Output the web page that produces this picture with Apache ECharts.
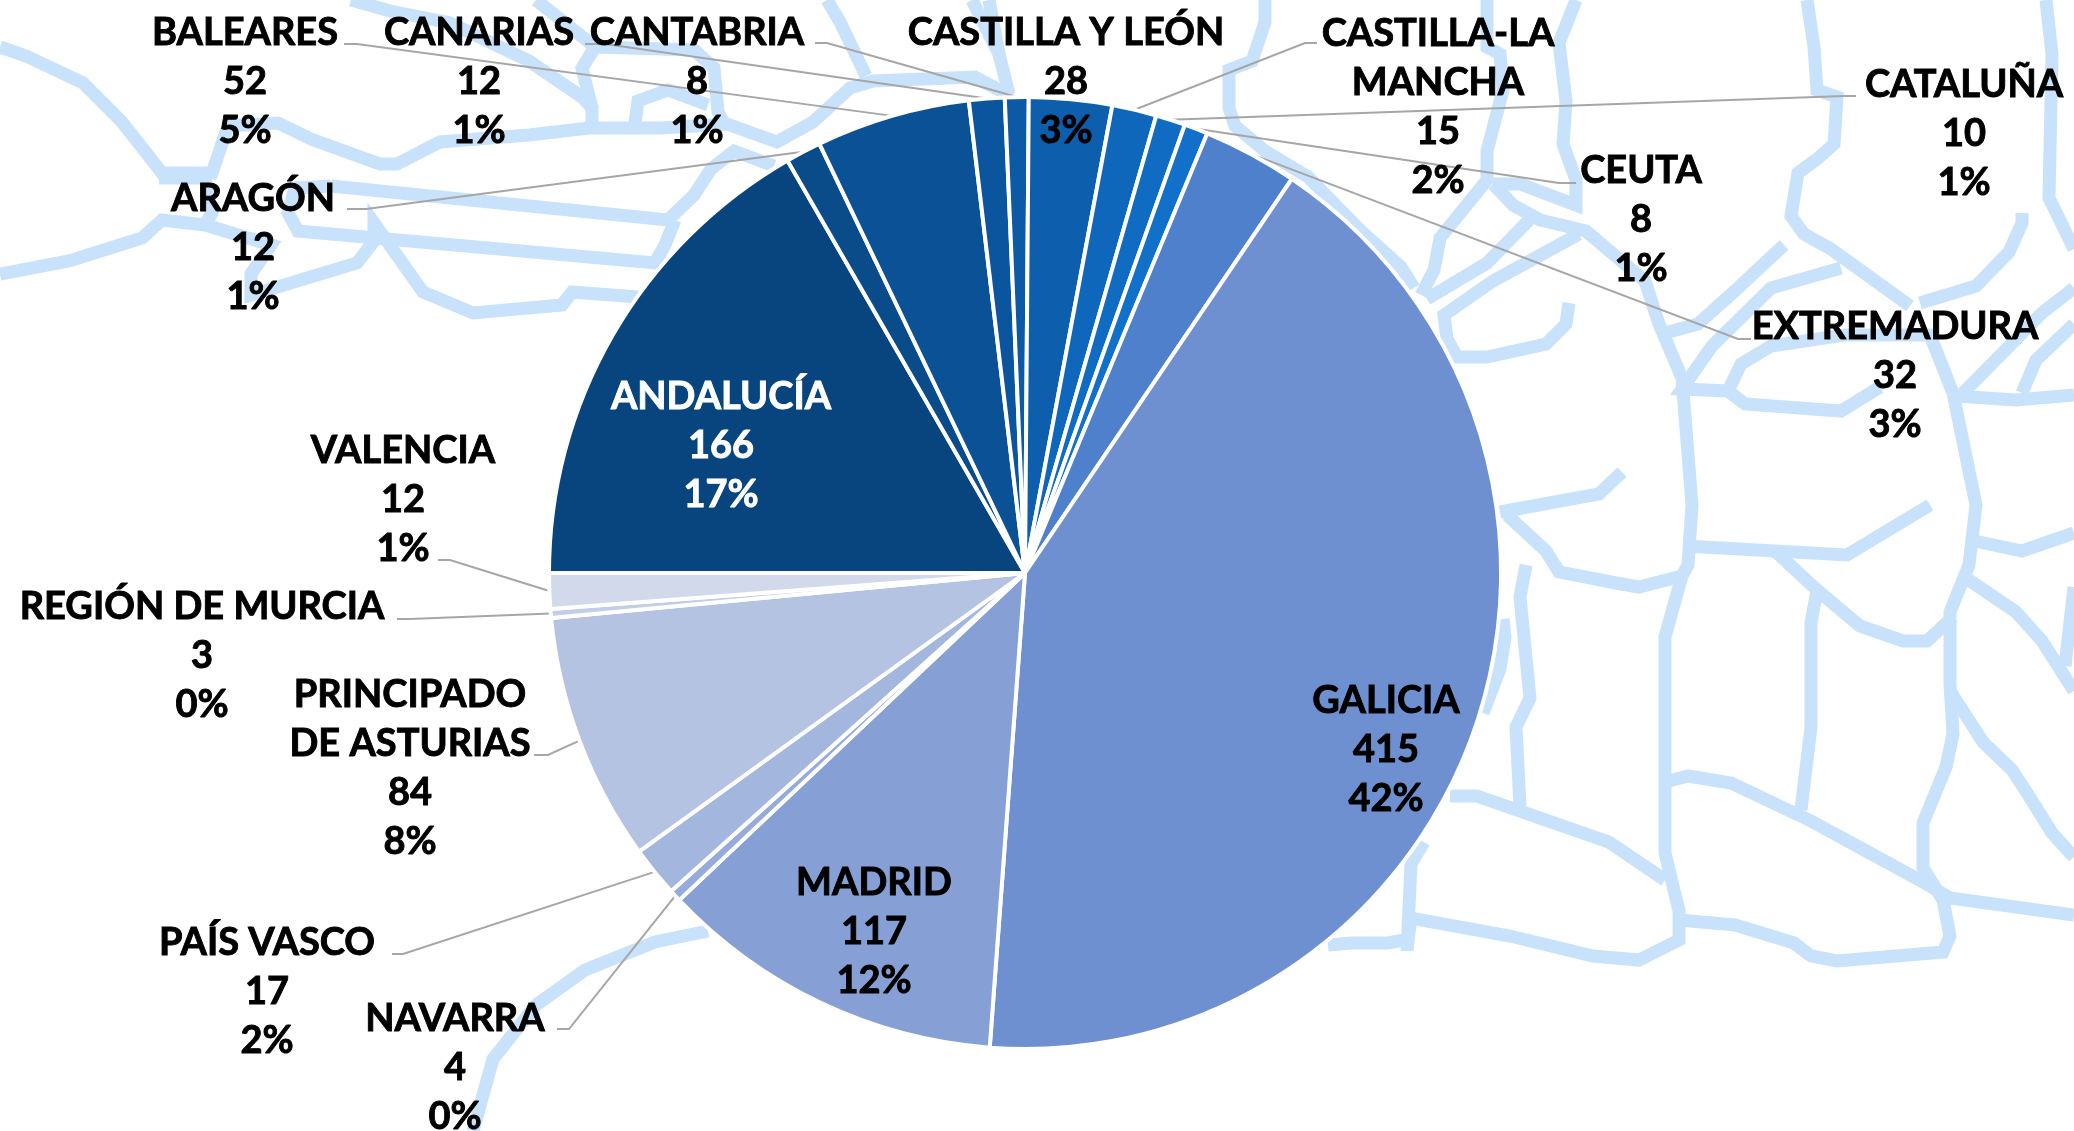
<!DOCTYPE html>
<html>
<head>
<meta charset="utf-8">
<title>Comunidades</title>
<script src="https://cdn.jsdelivr.net/npm/echarts@6/dist/echarts.min.js"></script>
<style>
    html, body {margin: 0; padding: 0; background: #fff;}
    #chart {width: 2074px; height: 1131px;}
</style>
</head>
<body>
<div id="chart"></div>
<script>
// values, clockwise from 9 o'clock
const categories = ['ANDALUCÍA', 'ARAGÓN', 'BALEARES', 'CANARIAS', 'CANTABRIA', 'CASTILLA Y LEÓN',
    'CASTILLA-LA\nMANCHA', 'CATALUÑA', 'CEUTA', 'EXTREMADURA', 'GALICIA', 'MADRID', 'NAVARRA',
    'PAÍS VASCO', 'PRINCIPADO\nDE ASTURIAS', 'REGIÓN DE MURCIA', 'VALENCIA'];
const values = [166, 12, 52, 12, 8, 28, 15, 10, 8, 32, 415, 117, 4, 17, 84, 3, 12];
const percents = [17, 1, 5, 1, 1, 3, 2, 1, 1, 3, 42, 12, 0, 2, 8, 0, 1];

const sliceColors = ['#08457E', '#0A4B8A', '#0B5196', '#0B559E', '#0C59A5', '#0D5EAD', '#0F67BB',
    '#106CC3', '#1070CA', '#4F80CB', '#6F90D0', '#86A0D5', '#95ACDA', '#A3B6DD', '#B4C3E1', '#C2CEE6', '#D1D9EB'];

// label block centres
const labelCenters = [[721, 446], [253, 248], [245, 82], [479, 82], [697, 82], [1066, 82], [1438, 107],
    [1964, 134], [1641, 220], [1895, 376], [1386, 750], [874, 932], [455, 1068], [267, 992], [410, 768],
    [202, 656], [403, 500]];

// leader lines: label side x, knee x, y. null = no leader
const leaders = [null, [347, 366, 209], [344, 357, 44], [585, 605, 44], [815, 827, 43], null,
    [1317, 1305, 43], [1856, 1844, 96], [1576, 1559, 183], [1751, 1738, 339], null, null,
    [557, 569, 1029], [392, 403, 954], [534, 548, 755], [397, 410, 619], [438, 450, 560]];

// faint map behind the pie
const mapLines = [
    [[0, 47], [26, 56], [83, 83], [122, 122], [162, 173], [212, 173], [228, 126], [278, 123], [311, 139], [380, 164], [397, 164], [440, 142], [529, 135], [589, 128], [661, 128], [727, 124], [777, 142], [813, 122], [850, 88], [873, 81], [975, 77], [1012, 97]],
    [[0, 274], [69, 261], [142, 238], [162, 220], [205, 225], [271, 245], [251, 274], [251, 295], [357, 263], [374, 241], [374, 223], [423, 292], [473, 313], [562, 305], [572, 292], [638, 297]],
    [[159, 178], [205, 178], [212, 213], [205, 225]],
    [[331, 186], [295, 188], [288, 213], [298, 231], [655, 263], [665, 245], [675, 220]],
    [[331, 186], [668, 220], [694, 195], [711, 169], [734, 151], [774, 166]],
    [[351, 0], [390, 11], [450, 23], [529, 61], [582, 97], [592, 108], [592, 126]],
    [[536, 0], [595, 47], [582, 68], [592, 108]],
    [[595, 47], [694, 50], [714, 68], [718, 112], [724, 124]],
    [[635, 123], [638, 101], [668, 90], [708, 105]],
    [[827, 0], [840, 22], [866, 76]],
    [[972, 0], [999, 54], [1009, 94]],
    [[989, 0], [999, 54]],
    [[1265, 0], [1265, 22], [1252, 61], [1229, 70], [1229, 108], [1235, 126], [1265, 151], [1308, 177], [1361, 231], [1401, 267], [1414, 288]],
    [[1487, 0], [1487, 47], [1500, 54], [1503, 90], [1487, 151], [1487, 180], [1440, 238], [1434, 270], [1421, 295]],
    [[1576, 0], [1559, 43], [1566, 101], [1563, 144], [1576, 180], [1576, 205], [1520, 184], [1493, 184]],
    [[1493, 184], [1513, 205], [1540, 220], [1586, 231], [1645, 281], [1659, 324], [1682, 378], [1692, 505], [1688, 565], [1682, 576], [1665, 637], [1665, 853], [1679, 911], [1679, 940], [1639, 960], [1593, 956], [1510, 936], [1411, 918], [1407, 949]],
    [[1533, 216], [1487, 263], [1427, 299]],
    [[1579, 234], [1493, 281], [1444, 315], [1447, 339], [1457, 357], [1487, 357], [1546, 344], [1566, 324], [1569, 303]],
    [[1424, 842], [1411, 864], [1407, 951]],
    [[1328, 945], [1351, 943], [1388, 943], [1404, 940]],
    [[1807, 0], [1814, 47], [1817, 90], [1837, 97], [1834, 144], [1817, 159], [1798, 173], [1791, 216], [1804, 234], [1831, 249], [1910, 306]],
    [[1784, 245], [1738, 288], [1698, 324], [1665, 333]],
    [[1841, 268], [1771, 288], [1712, 346], [1682, 389], [1728, 391], [1745, 404], [1841, 411], [1880, 387]],
    [[1728, 391], [1741, 364], [1771, 346], [1844, 335], [1930, 335], [1953, 393], [1976, 505], [1969, 565], [1950, 612], [1950, 684], [1953, 734], [1946, 767], [1923, 823], [1923, 868], [1943, 900], [1950, 936], [1943, 952], [1837, 961], [1811, 956], [1794, 943], [1735, 925], [1679, 920]],
    [[1956, 396], [2016, 400], [2074, 395]],
    [[1920, 303], [1976, 286], [2009, 252], [2022, 223], [2022, 213]],
    [[2046, 0], [2052, 54], [2049, 198], [2074, 249]],
    [[1963, 393], [2042, 313], [2074, 288]],
    [[2022, 393], [2036, 360], [2074, 324]],
    [[1500, 512], [1599, 494], [1622, 472]],
    [[1507, 515], [1546, 551], [1559, 572], [1616, 583], [1639, 587], [1682, 576]],
    [[1526, 565], [1520, 597], [1530, 698], [1516, 727], [1520, 806]],
    [[1685, 546], [1847, 555], [1930, 505]],
    [[1775, 551], [1817, 590], [1811, 623], [1811, 727], [1801, 810]],
    [[1817, 590], [1860, 626], [1903, 641], [1927, 641], [1953, 617]],
    [[1450, 796], [1477, 796], [1609, 842], [1665, 880]],
    [[1669, 781], [1688, 776], [1731, 783], [1811, 821], [1857, 846], [1923, 882], [1950, 898], [2074, 915]],
    [[1963, 576], [2016, 612], [2042, 641], [2074, 691]],
    [[1950, 691], [1983, 742], [2012, 770], [2029, 796], [2052, 833], [2074, 857]],
    [[1503, 619], [1505, 637], [1500, 669], [1483, 713]],
    [[1970, 540], [2022, 551], [2074, 533]],
    [[2065, 666], [2074, 587]],
    [[708, 931], [655, 942], [585, 970], [536, 1005], [493, 1059], [473, 1131]]
];

const el = echarts.init(document.getElementById('chart'));

const pieData = categories.map((name, i) => {
    const textColor = i === 0 ? '#fff' : '#000';
    return {
        name: name,
        value: values[i],
        percentText: percents[i] + '%',
        itemStyle: {color: sliceColors[i]},
        label: {color: textColor, textBorderColor: textColor, textBorderWidth: 0.9},
        labelLine: {show: !!leaders[i]}
    };
});

const option = {
    animation: false,
    backgroundColor: '#fff',
    graphic: mapLines.map((pts) => {
        return {
            type: 'polyline',
            z: -1,
            silent: true,
            shape: {points: pts},
            style: {stroke: '#C9E2FB', lineWidth: 13, fill: null, lineJoin: 'miter'}
        };
    }),
    series: [{
        type: 'pie',
        center: [1025, 573],
        radius: [0, 476],
        startAngle: 180,
        clockwise: true,
        avoidLabelOverlap: false,
        minShowLabelAngle: 0,
        itemStyle: {borderColor: '#fff', borderWidth: 4},
        label: {
            show: true,
            position: 'outside',
            alignTo: 'none',
            fontFamily: 'Lato',
            fontWeight: 'bold',
            fontSize: 38,
            lineHeight: 49,
            align: 'center',
            formatter: (p) => p.name + '\n' + p.value + '\n' + p.data.percentText
        },
        labelLine: {show: true, lineStyle: {color: '#A6A6A6', width: 2}},
        labelLayout: (params) => {
            const i = params.dataIndex;
            const res = {x: labelCenters[i][0], y: labelCenters[i][1], align: 'center', verticalAlign: 'middle', hideOverlap: false};
            if (leaders[i] && params.labelLinePoints) {
                const l = leaders[i];
                res.labelLinePoints = [params.labelLinePoints[0], [l[1], l[2]], [l[0], l[2]]];
            }
            return res;
        },
        data: pieData
    }]
};
el.setOption(option);
</script>
</body>
</html>
